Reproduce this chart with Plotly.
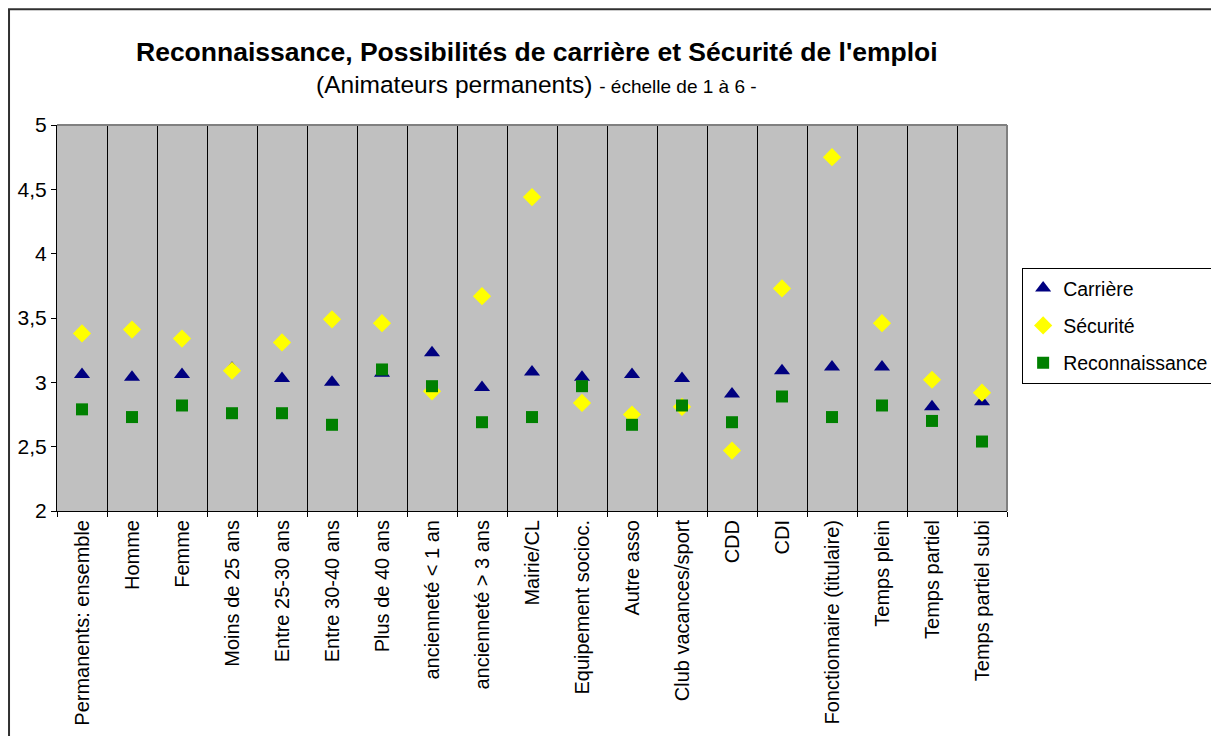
import plotly.graph_objects as go

# Catégories et valeurs (échelle de 1 à 6)
categories = [
    "Permanents: ensemble", "Homme", "Femme", "Moins de 25 ans",
    "Entre 25-30 ans", "Entre 30-40 ans", "Plus de 40 ans",
    "ancienneté < 1 an", "ancienneté > 3 ans", "Mairie/CL",
    "Equipement socioc.", "Autre asso", "Club vacances/sport", "CDD", "CDI",
    "Fonctionnaire (titulaire)", "Temps plein", "Temps partiel",
    "Temps partiel subi",
]
carriere = [3.06, 3.04, 3.06, 3.11, 3.03, 3.00, 3.07, 3.23, 2.96, 3.08,
            3.04, 3.06, 3.03, 2.91, 3.09, 3.12, 3.12, 2.81, 2.85]
securite = [3.38, 3.41, 3.34, 3.09, 3.31, 3.49, 3.46, 2.93, 3.67, 4.44,
            2.84, 2.75, 2.81, 2.47, 3.73, 4.75, 3.46, 3.02, 2.92]
reconnaissance = [2.79, 2.73, 2.82, 2.76, 2.76, 2.67, 3.10, 2.97, 2.69, 2.73,
                  2.97, 2.67, 2.82, 2.69, 2.89, 2.73, 2.82, 2.70, 2.54]

font = "Liberation Sans, Arial, sans-serif"

fig = go.Figure()

fig.add_trace(go.Scatter(
    x=categories, y=carriere, mode="markers", name="Carrière",
    legendgroup="c",
    marker=dict(symbol="triangle-up", size=14, color="#000080"),
))
fig.add_trace(go.Scatter(
    x=categories, y=securite, mode="markers", name="Sécurité",
    legendgroup="s",
    marker=dict(symbol="diamond", size=14, color="#FFFF00"),
))
fig.add_trace(go.Scatter(
    x=categories, y=reconnaissance, mode="markers", name="Reconnaissance",
    legendgroup="r",
    marker=dict(symbol="square", size=12, color="#008000"),
))

fig.update_layout(
    width=1203,
    height=728,
    margin=dict(l=49, r=204, t=117, b=225, autoexpand=False),
    paper_bgcolor="white",
    plot_bgcolor="#C0C0C0",
    font=dict(family=font, color="black"),
    showlegend=True,
    legend=dict(
        xref="container", yref="container",
        x=0.843, y=0.643, xanchor="left", yanchor="top",
        bordercolor="black", borderwidth=1, bgcolor="white",
        font=dict(size=19.5, family=font),
        traceorder="grouped", tracegroupgap=9,
    ),
    xaxis=dict(
        type="category",
        range=[-0.5, 18.5],
        tickson="boundaries",
        automargin=False,
        showgrid=True, gridcolor="black", gridwidth=1,
        ticks="outside", ticklen=5, tickcolor="black",
        showline=True, linecolor="black", linewidth=1,
        tickangle=-90,
        tickfont=dict(size=20, family=font),
    ),
    yaxis=dict(
        range=[2, 5],
        tickvals=[2, 2.5, 3, 3.5, 4, 4.5, 5],
        ticktext=["2", "2,5", "3", "3,5", "4", "4,5", "5"],
        automargin=False,
        showgrid=False, zeroline=False,
        ticks="outside", ticklen=5, tickcolor="black",
        showline=True, linecolor="black", linewidth=1,
        tickfont=dict(size=21, family=font),
    ),
)

# bordure grise de la zone de tracé (haut et droite)
fig.add_shape(type="line", xref="paper", yref="paper", x0=0, x1=1, y0=1, y1=1,
              line=dict(color="#808080", width=2))
fig.add_shape(type="line", xref="paper", yref="paper", x0=1, x1=1, y0=0, y1=1,
              line=dict(color="#808080", width=2))

# cadre extérieur du graphique (haut et gauche visibles)
fig.add_shape(type="rect", xref="paper", yref="paper",
              x0=-0.0505, x1=1.3, y0=-0.7, y1=1.3, layer="below",
              line=dict(color="#303030", width=2))

fig.add_annotation(
    text="<b>Reconnaissance, Possibilités de carrière et Sécurité de l'emploi</b>",
    xref="paper", yref="paper", x=0.505, y=1.19, showarrow=False,
    xanchor="center", yanchor="middle",
    font=dict(size=26.5, family=font),
)
fig.add_annotation(
    text="(Animateurs permanents) <span style='font-size:19px'>- échelle de 1 à 6 -</span>",
    xref="paper", yref="paper", x=0.505, y=1.106, showarrow=False,
    xanchor="center", yanchor="middle",
    font=dict(size=24.5, family=font),
)

fig.write_html("out.html")
